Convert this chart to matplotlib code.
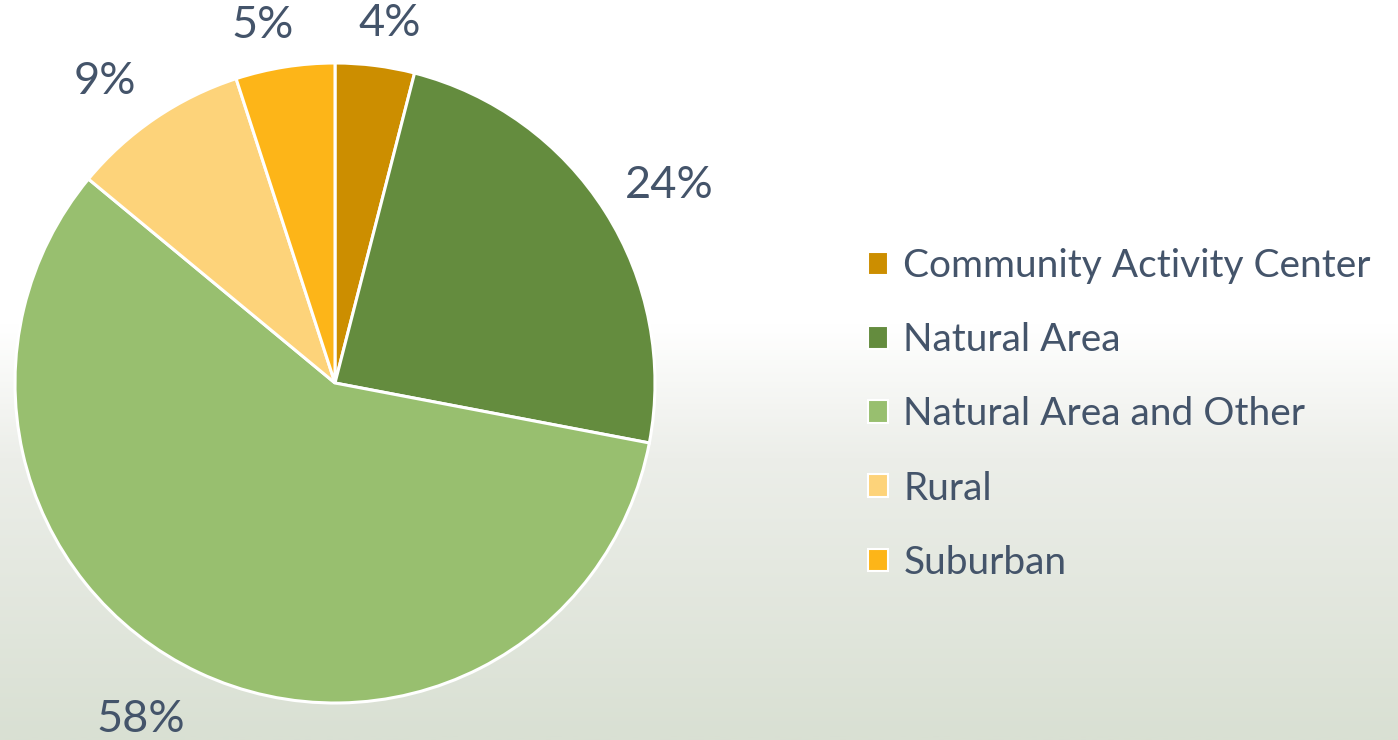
import numpy as np
import matplotlib.pyplot as plt
from matplotlib.colors import LinearSegmentedColormap

plt.rcParams["font.family"] = ["Lato", "DejaVu Sans"]

categories = ["Community Activity Center", "Natural Area", "Natural Area and Other",
              "Rural", "Suburban"]
shares = [4, 24, 58, 9, 5]
colors = ["#CC8E00", "#648C3E", "#98BF6F", "#FDD37A", "#FDB518"]
# label placement (distance in radii, angular nudge in degrees)
label_dist = [1.135, 1.215, 1.215, 1.185, 1.14]
label_nudge = [-1.5, -1.8, -4.8, 3.2, 2.5]
TEXT = "#44546A"

W, H = 1398, 740
fig = plt.figure(figsize=(W / 100, H / 100), dpi=100)

# washed-out background: white on top, pale grey-green towards the bottom
bg = fig.add_axes([0, 0, 1, 1], zorder=0)
grad = np.linspace(0, 1, 300).reshape(-1, 1)
cmap = LinearSegmentedColormap.from_list(
    "bg", [(0, "#ffffff"), (0.44, "#ffffff"), (0.62, "#eceee9"), (1, "#d9e0d3")])
bg.imshow(grad, aspect="auto", cmap=cmap, extent=[0, 1, 0, 1], origin="upper")
bg.axis("off")

# pie axes: centre (335, 383) px, radius 320 px
cx, cy, r = 335, 383, 320
ax = fig.add_axes([(cx - r) / W, (H - cy - r) / H, 2 * r / W, 2 * r / H], zorder=1)
ax.set_facecolor("none")
wedges, _ = ax.pie(shares, colors=colors, startangle=90, counterclock=False,
                   radius=1, wedgeprops=dict(edgecolor="white", linewidth=2.2))
ax.set_xlim(-1, 1)
ax.set_ylim(-1, 1)
ax.set_aspect("equal")
ax.axis("off")

for w, val, d, n in zip(wedges, shares, label_dist, label_nudge):
    ang = np.deg2rad((w.theta1 + w.theta2) / 2 + n)
    ax.text(d * np.cos(ang), d * np.sin(ang), f"{val}%", ha="center", va="center",
            fontsize=32.5, color=TEXT, clip_on=False)

handles = [plt.Rectangle((0, 0), 1, 1, facecolor=c, edgecolor="white", linewidth=1.5)
           for c in colors]
fig.legend(handles, categories, loc="center left", bbox_to_anchor=(0.596, 0.44),
           frameon=False, fontsize=28, labelcolor=TEXT, handlelength=0.52,
           handleheight=0.52, handletextpad=0.38, labelspacing=0.98)

fig.savefig("out.png", dpi=100)
